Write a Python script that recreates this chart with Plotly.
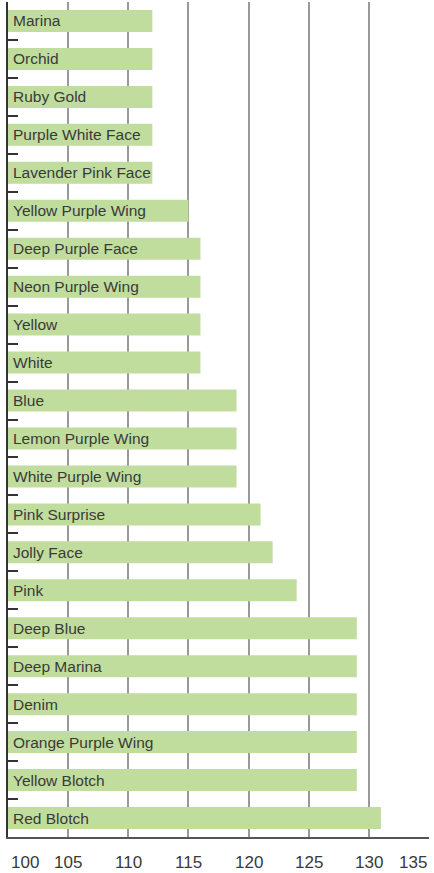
import plotly.graph_objects as go

categories = ["Marina", "Orchid", "Ruby Gold", "Purple White Face", "Lavender Pink Face",
              "Yellow Purple Wing", "Deep Purple Face", "Neon Purple Wing", "Yellow", "White",
              "Blue", "Lemon Purple Wing", "White Purple Wing", "Pink Surprise", "Jolly Face",
              "Pink", "Deep Blue", "Deep Marina", "Denim", "Orange Purple Wing",
              "Yellow Blotch", "Red Blotch"]
values = [112, 112, 112, 112, 112, 115, 116, 116, 116, 116, 119, 119, 119, 121, 122,
          124, 129, 129, 129, 129, 129, 131]
x_ticks = [100, 105, 110, 115, 120, 125, 130, 135]

BASE = 100
FONT = "Liberation Sans, Arial, sans-serif"

fig = go.Figure()
fig.add_trace(go.Bar(
    y=categories,
    x=[v - BASE for v in values],
    base=BASE,
    orientation="h",
    width=0.58,
    marker=dict(color="#c0dd9e", line=dict(width=0)),
    hoverinfo="skip",
))

annotations = []
for c in categories:
    annotations.append(dict(x=BASE, y=c, xref="x", yref="y", text=c, showarrow=False,
                            xanchor="left", yanchor="middle", xshift=3,
                            font=dict(family=FONT, size=15.5, color="#3a3a3a")))
for i, t in enumerate(x_ticks):
    if i == 0:
        anchor, shift = "left", 1
    elif i == len(x_ticks) - 1:
        anchor, shift = "right", 0
    else:
        anchor, shift = "center", 0
    annotations.append(dict(x=t, y=0, xref="x", yref="paper", text=str(t), showarrow=False,
                            xanchor=anchor, yanchor="middle", yshift=-25, xshift=shift,
                            font=dict(family=FONT, size=17, color="#3a3a3a")))

fig.update_layout(
    width=434, height=873,
    margin=dict(l=8, r=5, t=2, b=36),
    paper_bgcolor="white", plot_bgcolor="white",
    showlegend=False,
    annotations=annotations,
    xaxis=dict(range=[100, 135], tickvals=x_ticks, showticklabels=False,
               showgrid=True, gridcolor="#999999", gridwidth=1.5,
               zeroline=False, showline=True, linecolor="#555555", linewidth=2,
               ticks=""),
    yaxis=dict(categoryorder="array", categoryarray=categories, autorange="reversed",
               showticklabels=False, showgrid=False, zeroline=False,
               showline=True, linecolor="#333333", linewidth=2,
               ticks="inside", tickson="boundaries", ticklen=10, tickwidth=2,
               tickcolor="#333333"),
)

fig.write_html("out.html", config={"displayModeBar": False},
               post_script="document.body.style.margin='0';")
